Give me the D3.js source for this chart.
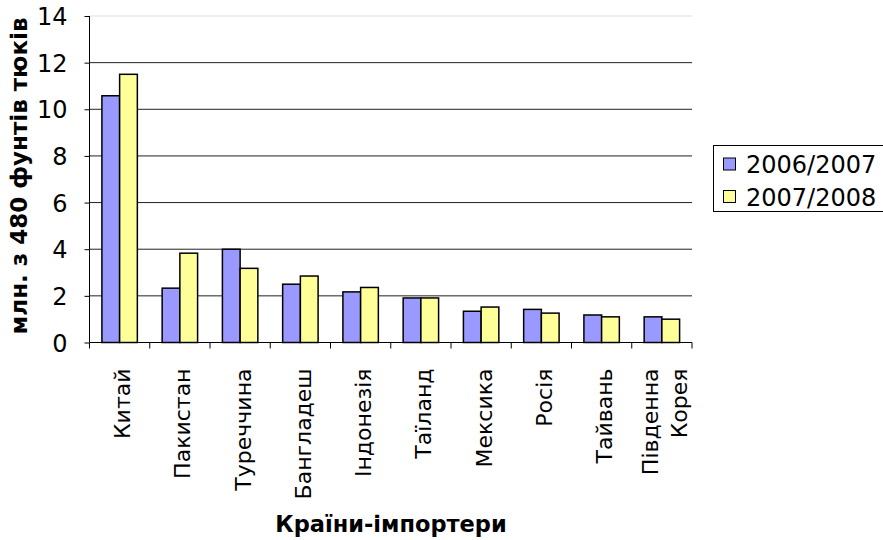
<!DOCTYPE html>
<html><head><meta charset="utf-8">
<script src="https://cdn.jsdelivr.net/npm/d3@7"></script>
<style>body{margin:0;background:#fff}svg{display:block}text{font-family:"DejaVu Sans",Verdana,sans-serif;fill:#000}</style>
</head><body><svg id="c" width="883" height="540"></svg>
<script>
const categories = ["Китай","Пакистан","Туреччина","Бангладеш","Індонезія","Таїланд","Мексика","Росія","Тайвань","Південна|Корея"];
const series2006 = [10.58,2.33,4.0,2.5,2.17,1.91,1.34,1.42,1.18,1.10];
const series2007 = [11.5,3.83,3.18,2.85,2.36,1.91,1.52,1.26,1.10,1.00];
const seriesNames = ["2006/2007","2007/2008"];
const seriesColors = ["#9999ff","#ffff99"];
const yTicks = [0,2,4,6,8,10,12,14];
const yTitle = "млн. з 480 фунтів тюків";
const xTitle = "Країни-імпортери";

const svg = d3.select("#c");
const L=89.5, R=692, T=16, B=342.5;
const x = d3.scaleBand().domain(categories).range([L,R]).paddingInner(0).paddingOuter(0);
const y = d3.scaleLinear().domain([0,14]).range([B,T]);
const xs = d3.scaleBand().domain(seriesNames).range([0,x.bandwidth()]).paddingInner(0).paddingOuter(0.7);

// gridlines
svg.append("g").selectAll("line").data(yTicks.filter(d=>d>0)).join("line")
  .attr("x1",L).attr("x2",R).attr("y1",d=>y(d)).attr("y2",d=>y(d))
  .attr("stroke",d=>d===14?"#ddd":"#222").attr("stroke-width",1);

// bars
const data = categories.map((c,i)=>({c, v:[series2006[i],series2007[i]]}));
const g = svg.append("g");
data.forEach(d=>{
  seriesNames.forEach((s,j)=>{
    g.append("rect").attr("x",x(d.c)+xs(s)).attr("width",xs.bandwidth())
      .attr("y",y(d.v[j])).attr("height",B-y(d.v[j]))
      .attr("fill",seriesColors[j]).attr("stroke","#000").attr("stroke-width",1.5);
  });
});

// y axis
const yAxis = d3.axisLeft(y).tickValues(yTicks).tickSize(5).tickPadding(17);
const ya = svg.append("g").attr("transform",`translate(${L},0)`).call(yAxis);
ya.select(".domain").attr("d",`M0,${T}V${B}`).attr("stroke","#000");
ya.selectAll("text").style("font-size","24px").attr("dy","0.36em");

// x axis
const xa = svg.append("g").attr("transform",`translate(0,${B})`);
xa.append("line").attr("x1",L).attr("x2",R).attr("stroke","#000");
const bounds = categories.map(c=>x(c)).concat([R]);
xa.selectAll("line.t").data(bounds).join("line").attr("class","t")
  .attr("x1",d=>d).attr("x2",d=>d).attr("y1",0).attr("y2",6).attr("stroke","#000");

// category labels
categories.forEach(c=>{
  const lines=c.split("|");
  const cx = x(c)+x.bandwidth()/2 + 2.5;
  const t = svg.append("text").attr("transform",`translate(${cx},${B+26}) rotate(-90)`)
    .attr("text-anchor","end").style("font-size","22px");
  lines.forEach((ln,k)=>{
    t.append("tspan").attr("x",0).attr("y",0)
     .attr("dy",(0.36 + (k-(lines.length-1)/2)*1.3)+"em").text(ln);
  });
});

// axis titles
svg.append("text").attr("transform",`translate(${391},${532})`).attr("text-anchor","middle")
  .style("font-size","22.5px").style("font-weight","bold").text(xTitle);
svg.append("text").attr("transform",`translate(27,${176}) rotate(-90)`).attr("text-anchor","middle")
  .style("font-size","23px").style("font-weight","bold").text(yTitle);

// legend
const lg = svg.append("g");
lg.append("rect").attr("x",713.5).attr("y",145.5).attr("width",175).attr("height",66)
  .attr("fill","#fff").attr("stroke","#000");
seriesNames.forEach((s,i)=>{
  const cy = 164.5 + i*32.5;
  lg.append("rect").attr("x",723.5).attr("y",cy-6.5).attr("width",12).attr("height",12)
    .attr("fill",seriesColors[i]).attr("stroke","#000");
  lg.append("text").attr("x",746).attr("y",cy).attr("dy","0.36em").style("font-size","24px").text(s);
});
</script></body></html>
